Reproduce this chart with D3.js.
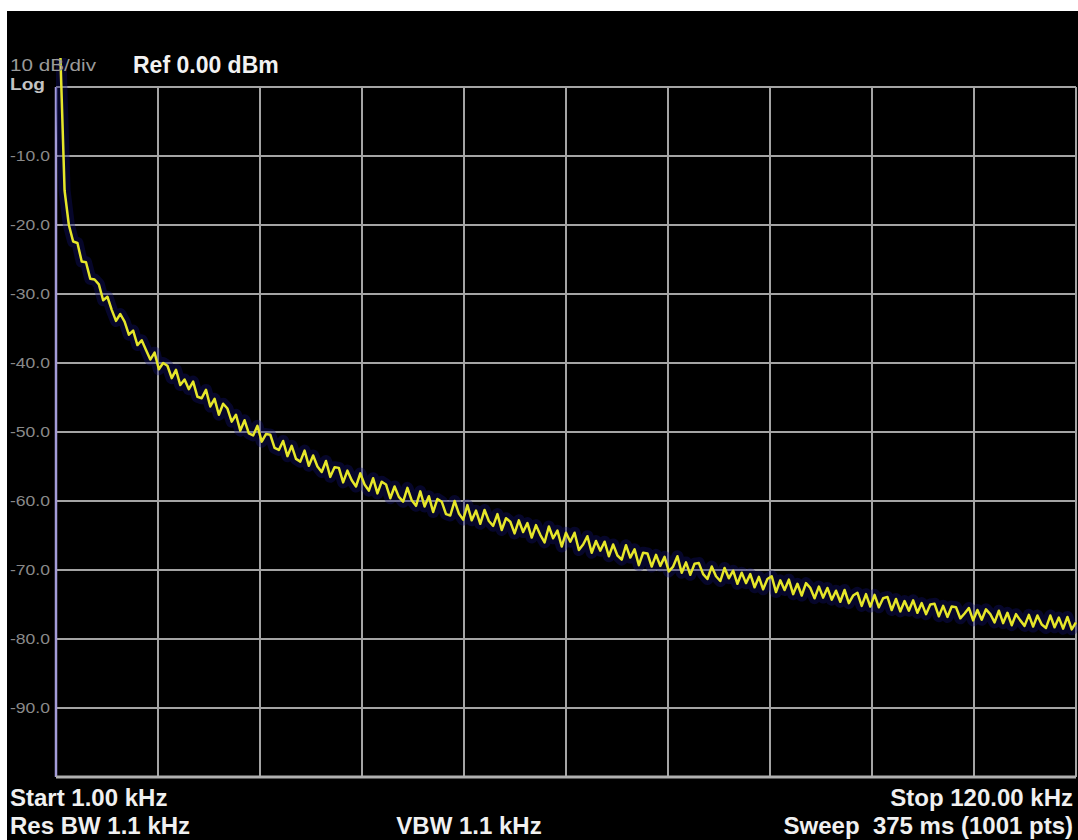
<!DOCTYPE html>
<html><head><meta charset="utf-8">
<script src="https://cdn.jsdelivr.net/npm/d3@7/dist/d3.min.js"></script>
<style>
html,body{margin:0;padding:0;background:#fff;}
svg{display:block;}
text{font-family:"Liberation Sans",Arial,sans-serif;white-space:pre;}
</style>
</head><body>
<svg id="chart" width="1078" height="840"></svg>
<script>
// ---------- data ----------
const startKHz = 1.0;
const stopKHz = 120.0;
const refDbm = 0;
const bottomDbm = -100;
const xGridKHz = [1, 12.9, 24.8, 36.7, 48.6, 60.5, 72.4, 84.3, 96.2, 108.1, 120];
const yGridDbm = [0, -10, -20, -30, -40, -50, -60, -70, -80, -90, -100];
const yTickValues = [-10, -20, -30, -40, -50, -60, -70, -80, -90];
const yTickLabels = ["-10.0", "-20.0", "-30.0", "-40.0", "-50.0", "-60.0", "-70.0", "-80.0", "-90.0"];
const topLeftLabels = ["10 dB/div", "Log"];
const refLabel = "Ref 0.00 dBm";
const bottomLeftLabels = ["Start 1.00 kHz", "Res BW 1.1 kHz"];
const bottomMidLabel = "VBW 1.1 kHz";
const bottomRightLabels = ["Stop 120.00 kHz", "Sweep  375 ms (1001 pts)"];
// trace level (dBm), sampled evenly from start to stop frequency
const levelDbm = [
  5, 5, -15, -20.0, -22.4, -22.6, -25.3, -25.4, -27.8, -27.9,
  -28.6, -30.9, -30.4, -32.3, -33.9, -32.9, -34.0, -35.9, -35.3, -37.4,
  -36.7, -38.1, -39.5, -38.5, -40.9, -40.0, -40.4, -42.2, -41.0, -43.2,
  -42.4, -43.8, -42.7, -44.9, -45.1, -43.9, -46.3, -45.2, -47.5, -45.9,
  -46.6, -48.5, -47.5, -49.8, -48.3, -50.2, -50.5, -49.1, -51.4, -50.3,
  -50.4, -52.3, -52.6, -51.3, -53.5, -52.0, -53.9, -54.3, -52.7, -54.9,
  -53.4, -55.0, -55.8, -54.2, -56.5, -55.1, -55.2, -57.3, -55.6, -57.0,
  -57.9, -56.0, -57.6, -58.5, -56.7, -58.9, -57.2, -57.6, -59.6, -57.9,
  -59.4, -60.1, -58.1, -59.9, -60.7, -58.6, -60.8, -59.3, -61.6, -59.7,
  -60.1, -61.9, -62.1, -60.0, -61.8, -62.7, -60.6, -62.8, -61.4, -63.3,
  -61.3, -62.9, -63.6, -61.9, -64.2, -62.5, -63.0, -64.7, -62.8, -64.5,
  -63.2, -65.3, -63.5, -64.9, -66.0, -63.7, -65.4, -64.3, -66.6, -64.6,
  -65.9, -64.6, -67.1, -66.3, -65.1, -67.5, -65.8, -67.2, -65.9, -68.0,
  -66.3, -67.9, -68.5, -66.4, -68.2, -67.0, -69.3, -67.5, -67.6, -69.5,
  -67.8, -69.4, -68.1, -70.2, -69.5, -68.0, -70.4, -68.9, -70.7, -69.1,
  -69.0, -70.6, -71.3, -69.5, -70.9, -71.6, -69.7, -71.2, -70.1, -72.0,
  -70.4, -71.9, -70.6, -72.5, -71.0, -72.8, -71.3, -70.9, -73.2, -71.5,
  -72.9, -71.4, -73.5, -72.0, -73.7, -71.9, -72.6, -74.1, -72.4, -74.0,
  -72.6, -74.3, -73.0, -74.6, -72.9, -74.8, -73.7, -73.3, -75.2, -73.5,
  -75.3, -73.6, -75.4, -74.1, -73.9, -75.8, -74.2, -76.0, -74.5, -75.9,
  -74.4, -76.2, -74.8, -76.4, -75.0, -74.9, -76.7, -75.2, -76.8, -75.3,
  -75.4, -77.0, -76.3, -75.5, -77.3, -75.8, -77.2, -75.7, -76.4, -77.6,
  -75.9, -77.7, -76.2, -78.0, -76.4, -77.3, -78.1, -76.5, -78.2, -76.6,
  -77.9, -78.4, -76.6, -78.3, -76.9, -78.5, -76.8, -78.6, -77.6
];

// ---------- layout ----------
const svg = d3.select("#chart");
const W = 1078, H = 840;
const plot = {left: 56, right: 1076, top: 87, bottom: 777};

svg.append("rect").attr("x", 0).attr("y", 0).attr("width", W).attr("height", H).attr("fill", "#ffffff");
svg.append("rect").attr("x", 7).attr("y", 11).attr("width", W - 7).attr("height", H - 11).attr("fill", "#000000");

const x = d3.scaleLinear().domain([startKHz, stopKHz]).range([plot.left, plot.right]);
const y = d3.scaleLinear().domain([bottomDbm, refDbm]).range([plot.bottom, plot.top]);

// grid
const grid = svg.append("g");
grid.selectAll("line.v").data(xGridKHz).join("line")
  .attr("x1", d => x(d)).attr("x2", d => x(d))
  .attr("y1", plot.top).attr("y2", plot.bottom)
  .attr("stroke", "#a4a4a4").attr("stroke-width", 2);
grid.selectAll("line.h").data(yGridDbm).join("line")
  .attr("x1", plot.left).attr("x2", plot.right)
  .attr("y1", d => y(d)).attr("y2", d => y(d))
  .attr("stroke", "#a4a4a4").attr("stroke-width", 2);
// left frame edge (lavender)
grid.append("line")
  .attr("x1", x(startKHz)).attr("x2", x(startKHz))
  .attr("y1", plot.top).attr("y2", plot.bottom)
  .attr("stroke", "#a49cd8").attr("stroke-width", 2.5);
// thicker bottom edge
grid.append("line")
  .attr("x1", plot.left).attr("x2", plot.right)
  .attr("y1", y(bottomDbm)).attr("y2", y(bottomDbm))
  .attr("stroke", "#b0b0b0").attr("stroke-width", 3);

// y axis labels
const yAxis = d3.axisLeft(y).tickValues(yTickValues)
  .tickFormat((d, i) => yTickLabels[i]).tickSize(0).tickPadding(5);
const ya = svg.append("g").attr("transform", `translate(${plot.left - 1},0)`).call(yAxis);
ya.select(".domain").remove();
ya.selectAll("text").attr("fill", "#8a8a8a").attr("font-size", 15)
  .attr("font-family", "'Liberation Sans', Arial, sans-serif")
  .attr("textLength", 40).attr("lengthAdjust", "spacingAndGlyphs");

// trace
svg.append("clipPath").attr("id", "clip").append("rect")
  .attr("x", plot.left).attr("y", 58).attr("width", plot.right - plot.left + 2).attr("height", plot.bottom - 58);
const n = levelDbm.length;
const freqAt = i => startKHz + i * (stopKHz - startKHz) / (n - 1);
const line = d3.line().x((d, i) => x(freqAt(i))).y(d => y(d));
const tg = svg.append("g").attr("clip-path", "url(#clip)");
tg.append("path").datum(levelDbm).attr("d", line)
  .attr("fill", "none").attr("stroke", "#101078").attr("stroke-width", 12)
  .attr("stroke-opacity", 0.35).attr("stroke-linejoin", "round");
tg.append("path").datum(levelDbm).attr("d", line)
  .attr("fill", "none").attr("stroke", "#e6e62a").attr("stroke-width", 2.5)
  .attr("stroke-linejoin", "round");

// texts
svg.append("text").attr("x", 10).attr("y", 71).text(topLeftLabels[0])
  .attr("fill", "#9a9a9a").attr("font-size", 17)
  .attr("textLength", 86).attr("lengthAdjust", "spacingAndGlyphs");
svg.append("text").attr("x", 10).attr("y", 90).text(topLeftLabels[1])
  .attr("fill", "#c4c4c4").attr("font-size", 17).attr("font-weight", "bold")
  .attr("textLength", 35).attr("lengthAdjust", "spacingAndGlyphs");
svg.append("text").attr("x", 133).attr("y", 73).text(refLabel)
  .attr("fill", "#f2f2f2").attr("font-size", 23).attr("font-weight", "bold");

svg.selectAll("text.bl").data(bottomLeftLabels).join("text")
  .attr("x", 10).attr("y", (d, i) => 806 + i * 28).text(d => d)
  .attr("fill", "#f0f0f0").attr("font-size", 24).attr("font-weight", "bold");
svg.append("text").attr("x", 469).attr("y", 834).attr("text-anchor", "middle").text(bottomMidLabel)
  .attr("fill", "#f0f0f0").attr("font-size", 24).attr("font-weight", "bold");
svg.selectAll("text.br").data(bottomRightLabels).join("text")
  .attr("x", 1073).attr("y", (d, i) => 806 + i * 28).attr("text-anchor", "end").text(d => d)
  .attr("fill", "#f0f0f0").attr("font-size", 24).attr("font-weight", "bold");
</script>
</body></html>
